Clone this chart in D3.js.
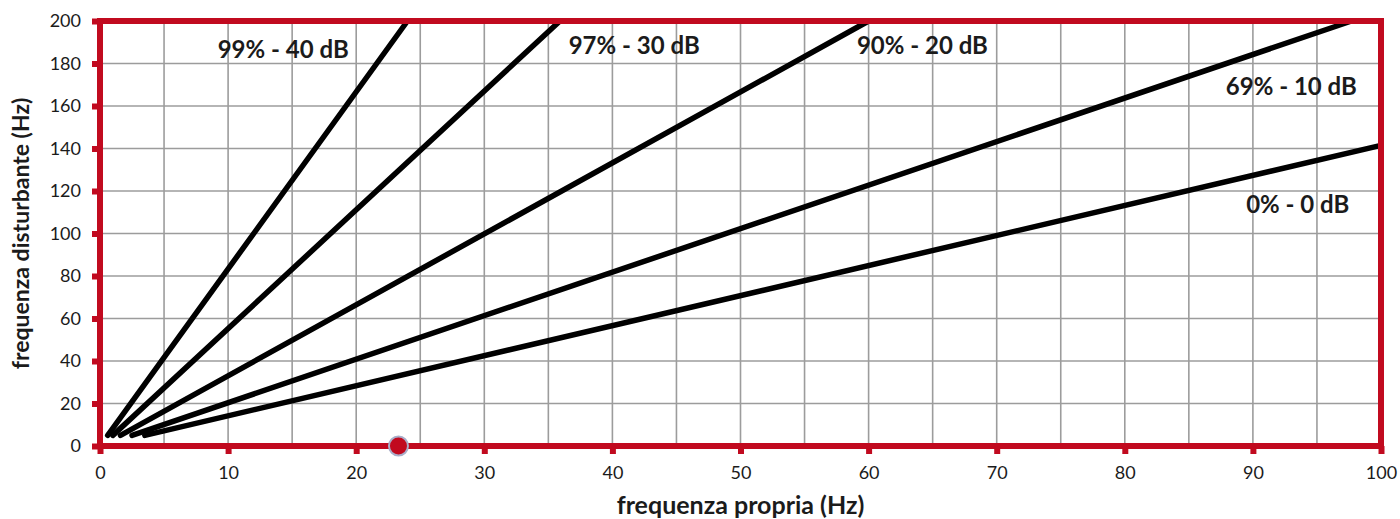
<!DOCTYPE html>
<html>
<head>
<meta charset="utf-8">
<script src="https://cdn.jsdelivr.net/npm/d3@7"></script>
<style>
  body { margin: 0; background: #fff; }
  text { font-family: Lato, "Open Sans", sans-serif; fill: #1b1b1b; }
</style>
</head>
<body>
<svg id="chart"></svg>
<script>
// isolation lines: start and end points
const lineNames = ["99% - 40 dB", "97% - 30 dB", "90% - 20 dB", "69% - 10 dB", "0% - 0 dB"];
const lineX = [[0.6, 24.0], [1.0, 35.9], [1.6, 60.0], [2.5, 97.7], [3.5, 100]];
const lineY = [[5, 200], [5, 200], [5, 200], [5, 200], [5, 141.5]];
// label anchors (centre, baseline) in axis units
const labelX = [14.3, 41.7, 64.2, 93.0, 93.5];
const labelY = [182.6, 184.5, 184.5, 165.2, 109.6];
// marker on the x axis
const pointX = [23.3];
const pointY = [0];
const xTicks = [0, 10, 20, 30, 40, 50, 60, 70, 80, 90, 100];
const yTicks = [0, 20, 40, 60, 80, 100, 120, 140, 160, 180, 200];
const xGrid = d3.range(5, 100, 5);

const W = 1400, H = 519;
const margin = { top: 21, right: 19, bottom: 73, left: 100 };
const width = W - margin.left - margin.right;
const height = H - margin.top - margin.bottom;
const red = "#c10a1f";

const svg = d3.select("#chart")
    .attr("width", W)
    .attr("height", H);

const g = svg.append("g")
    .attr("transform", `translate(${margin.left},${margin.top})`);

const x = d3.scaleLinear().domain([0, 100]).range([0, width]);
const y = d3.scaleLinear().domain([0, 200]).range([height, 0]);

// grid
g.append("g").selectAll("line")
    .data(xGrid)
    .join("line")
    .attr("x1", d => x(d)).attr("x2", d => x(d))
    .attr("y1", 0).attr("y2", height)
    .attr("stroke", "#9c9c9c").attr("stroke-width", 1.6);

g.append("g").selectAll("line")
    .data(yTicks.slice(1, -1))
    .join("line")
    .attr("x1", 0).attr("x2", width)
    .attr("y1", d => y(d)).attr("y2", d => y(d))
    .attr("stroke", "#9c9c9c").attr("stroke-width", 1.6);

// curves
const lines = lineNames.map((name, i) => ({
    name,
    pts: lineX[i].map((v, j) => [v, lineY[i][j]])
}));

const lineGen = d3.line().x(d => x(d[0])).y(d => y(d[1]));

g.append("g").selectAll("path")
    .data(lines)
    .join("path")
    .attr("d", d => lineGen(d.pts))
    .attr("fill", "none")
    .attr("stroke", "#000")
    .attr("stroke-width", 5.5)
    .attr("stroke-linecap", "round");

// frame
g.append("rect")
    .attr("x", 0).attr("y", 0)
    .attr("width", width).attr("height", height)
    .attr("fill", "none")
    .attr("stroke", red)
    .attr("stroke-width", 6);

// axes (red tick marks outside the frame)
const xAxis = d3.axisBottom(x).tickValues(xTicks).tickSize(8).tickPadding(12);
const yAxis = d3.axisLeft(y).tickValues(yTicks).tickSize(8).tickPadding(11);

const gx = g.append("g")
    .attr("transform", `translate(0,${height})`)
    .call(xAxis);
const gy = g.append("g").call(yAxis);

[gx, gy].forEach(a => {
    a.select(".domain").remove();
    a.selectAll(".tick line").attr("stroke", red).attr("stroke-width", 6);
    a.selectAll(".tick text")
        .attr("font-size", 18)
        .attr("font-family", "Lato, sans-serif")
        .attr("fill", "#1b1b1b");
});

// curve labels
g.append("g").selectAll("text")
    .data(lineNames)
    .join("text")
    .attr("x", (d, i) => x(labelX[i]))
    .attr("y", (d, i) => y(labelY[i]))
    .attr("text-anchor", "middle")
    .attr("font-size", 24)
    .attr("font-weight", "bold")
    .text(d => d);

// marker
g.append("g").selectAll("circle")
    .data(pointX)
    .join("circle")
    .attr("cx", d => x(d))
    .attr("cy", (d, i) => y(pointY[i]))
    .attr("r", 9.5)
    .attr("fill", red)
    .attr("stroke", "#a9aec9")
    .attr("stroke-width", 2);

// axis titles
svg.append("text")
    .attr("x", margin.left + width / 2)
    .attr("y", 514)
    .attr("text-anchor", "middle")
    .attr("font-size", 25)
    .attr("font-weight", "bold")
    .text("frequenza propria (Hz)");

svg.append("text")
    .attr("transform", `translate(29,${margin.top + height / 2}) rotate(-90)`)
    .attr("text-anchor", "middle")
    .attr("font-size", 23)
    .attr("font-weight", "bold")
    .text("frequenza disturbante (Hz)");
</script>
</body>
</html>
